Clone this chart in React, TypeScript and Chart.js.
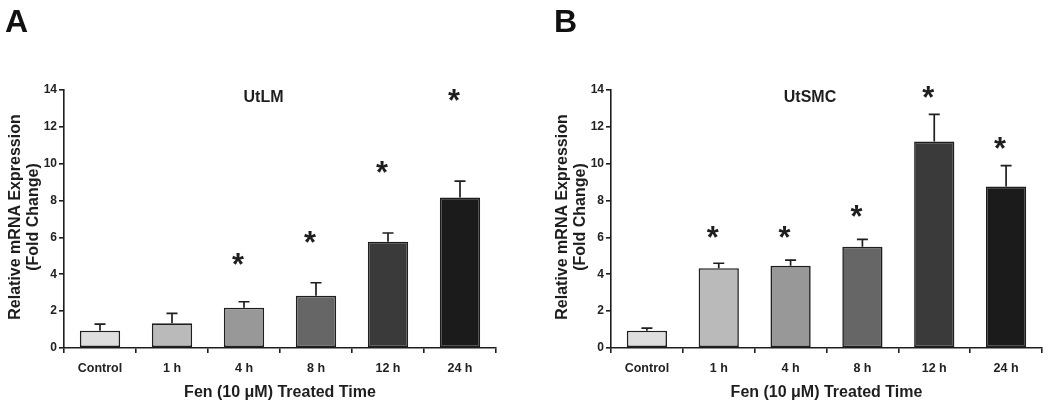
import React, { useEffect, useRef } from "react";
import { Chart, registerables } from "chart.js";

Chart.register(...registerables);

const categories = ["Control", "1 h", "4 h", "8 h", "12 h", "24 h"];
const yTicks = [0, 2, 4, 6, 8, 10, 12, 14];
const barColors = ["#dedede", "#bababa", "#989898", "#666666", "#3a3a3a", "#1b1b1b"];

const utlmMeans = [0.94, 1.34, 2.19, 2.84, 5.77, 8.16];
const utlmErrors = [0.36, 0.54, 0.32, 0.7, 0.47, 0.9];
const utlmStars: (number | null)[] = [null, null, 4.82, 6.05, 9.84, 13.75];

const utsmcMeans = [0.94, 4.33, 4.46, 5.49, 11.2, 8.76];
const utsmcErrors = [0.14, 0.27, 0.31, 0.4, 1.48, 1.14];
const utsmcStars: (number | null)[] = [null, 6.32, 6.32, 7.46, 13.9, 11.14];

const FONT = '"Liberation Sans", Arial, Helvetica, sans-serif';
const INK = "#1e1e1e";

type Panel = {
  letter: string;
  letterX: number;
  title: string;
  means: number[];
  errors: number[];
  stars: (number | null)[];
  axisWidth: number;
  rightPad: number;
  yTitleX1: number;
  yTitleX2: number;
};

const panels: Panel[] = [
  {
    letter: "A",
    letterX: 5,
    title: "UtLM",
    means: utlmMeans,
    errors: utlmErrors,
    stars: utlmStars,
    axisWidth: 64,
    rightPad: 29,
    yTitleX1: 14,
    yTitleX2: 32.5,
  },
  {
    letter: "B",
    letterX: 29,
    title: "UtSMC",
    means: utsmcMeans,
    errors: utsmcErrors,
    stars: utsmcStars,
    axisWidth: 86,
    rightPad: 8,
    yTitleX1: 36.5,
    yTitleX2: 54,
  },
];

function makeOverlay(p: Panel) {
  return {
    id: "overlay-" + p.letter,
    afterDatasetsDraw(chart: any) {
      const ctx: CanvasRenderingContext2D = chart.ctx;
      const ys = chart.scales.y;
      const area = chart.chartArea;
      const meta = chart.getDatasetMeta(0);
      ctx.save();
      // error bars
      ctx.strokeStyle = INK;
      ctx.lineWidth = 1.7;
      meta.data.forEach((el: any, i: number) => {
        const top = ys.getPixelForValue(p.means[i] + p.errors[i]);
        ctx.beginPath();
        ctx.moveTo(el.x, el.y);
        ctx.lineTo(el.x, top);
        ctx.moveTo(el.x - 5.5, top);
        ctx.lineTo(el.x + 5.5, top);
        ctx.stroke();
      });
      // asterisks
      ctx.fillStyle = INK;
      ctx.font = `bold 100px ${FONT}`;
      const m0 = ctx.measureText("*");
      const w0 = m0.actualBoundingBoxLeft + m0.actualBoundingBoxRight;
      const size = (100 * 12) / (w0 || 33);
      ctx.font = `bold ${size}px ${FONT}`;
      const m = ctx.measureText("*");
      ctx.textAlign = "center";
      ctx.textBaseline = "alphabetic";
      meta.data.forEach((el: any, i: number) => {
        const s = p.stars[i];
        if (s == null) return;
        const cy = ys.getPixelForValue(s);
        const base = cy + (m.actualBoundingBoxAscent - m.actualBoundingBoxDescent) / 2;
        const cx = el.x + (m.actualBoundingBoxLeft - m.actualBoundingBoxRight) / 2;
        ctx.fillText("*", cx, base);
      });
      // chart title
      ctx.font = `bold 16px ${FONT}`;
      ctx.textAlign = "center";
      ctx.textBaseline = "middle";
      ctx.fillText(p.title, (area.left + area.right) / 2 - 16.5, 97.5);
      // x-axis title
      ctx.fillText("Fen (10 μM) Treated Time", (area.left + area.right) / 2, 392.5);
      // y-axis title
      ctx.save();
      ctx.translate(0, 217);
      ctx.rotate(-Math.PI / 2);
      ctx.fillText("Relative mRNA Expression", 0, p.yTitleX1 + 1.5);
      ctx.fillText("(Fold Change)", 0, p.yTitleX2 + 1.5);
      ctx.restore();
      // panel letter
      ctx.font = `bold 32px ${FONT}`;
      ctx.textAlign = "left";
      ctx.textBaseline = "alphabetic";
      ctx.fillStyle = "#111";
      ctx.fillText(p.letter, p.letterX, 32);
      ctx.restore();
    },
  };
}

function PanelChart({ p }: { p: Panel }) {
  const ref = useRef<HTMLCanvasElement | null>(null);
  useEffect(() => {
    if (!ref.current) return;
    const chart = new Chart(ref.current, {
      type: "bar",
      data: {
        labels: categories,
        datasets: [
          {
            data: p.means,
            backgroundColor: barColors,
            borderColor: INK,
            borderWidth: 1.6,
            borderSkipped: false,
            barPercentage: 0.56,
            categoryPercentage: 1,
          },
        ],
      },
      options: {
        animation: false,
        responsive: false,
        devicePixelRatio: 1,
        layout: { padding: { left: 0, right: p.rightPad, top: 90, bottom: 0 } },
        plugins: { legend: { display: false }, tooltip: { enabled: false }, title: { display: false } },
        scales: {
          x: {
            offset: true,
            grid: {
              offset: true,
              drawOnChartArea: false,
              drawTicks: true,
              tickLength: 5,
              color: INK,
              lineWidth: 1.6,
            },
            border: { display: true, color: INK, width: 1.6 },
            ticks: {
              color: "#222",
              font: { family: FONT, size: 12.5, weight: "bold" },
              padding: 8,
              maxRotation: 0,
              autoSkip: false,
            },
            afterFit: (scale: any) => {
              scale.height = 62;
            },
          },
          y: {
            min: 0,
            max: 14,
            afterBuildTicks: (scale: any) => {
              scale.ticks = yTicks.map((v) => ({ value: v }));
            },
            grid: {
              drawOnChartArea: false,
              drawTicks: true,
              tickLength: 5,
              color: INK,
              lineWidth: 1.6,
            },
            border: { display: true, color: INK, width: 1.6 },
            ticks: {
              color: "#222",
              font: { family: FONT, size: 12, weight: "bold" },
              padding: 2,
            },
            afterFit: (scale: any) => {
              scale.width = p.axisWidth;
            },
          },
        },
      },
      plugins: [makeOverlay(p)],
    } as any);
    return () => chart.destroy();
  }, [p]);
  return <canvas ref={ref} width={525} height={410} style={{ width: 525, height: 410, display: "block" }} />;
}

export default function App() {
  return (
    <div
      style={{
        position: "absolute",
        left: 0,
        top: 0,
        width: 1050,
        height: 410,
        display: "flex",
        background: "#fff",
      }}
    >
      {panels.map((p) => (
        <PanelChart key={p.letter} p={p} />
      ))}
    </div>
  );
}
